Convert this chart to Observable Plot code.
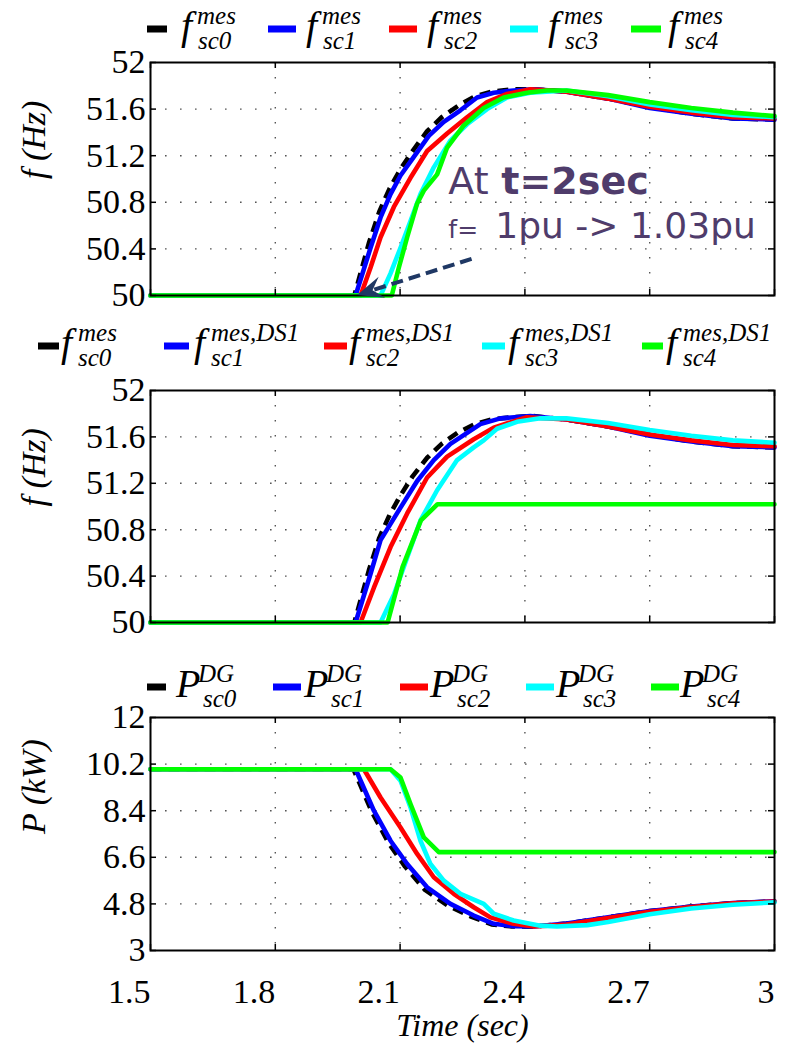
<!DOCTYPE html>
<html><head><meta charset="utf-8">
<script src="https://cdn.jsdelivr.net/npm/d3@7"></script>
<script src="https://cdn.jsdelivr.net/npm/@observablehq/plot@0.6"></script>
<style>
html,body{margin:0;padding:0;background:#fff;}
#root{position:relative;width:798px;height:1043px;overflow:hidden;background:#fff;}
.panel{position:absolute;left:0;}
#legend{position:absolute;left:0;top:0;}
</style></head><body><div id="root"></div>
<script>
// ---------- axis ticks ----------
const xTicks = [1.5, 1.8, 2.1, 2.4, 2.7, 3];
const fTicks = [50, 50.4, 50.8, 51.2, 51.6, 52];
const pTicks = [3, 4.8, 6.6, 8.4, 10.2, 12];
const seriesColors = ["#000000", "#0000ff", "#ff0000", "#00ffff", "#00ff00"];

// ---------- legends ----------
const legend1Base = ["f", "f", "f", "f", "f"];
const legend1Sup = ["mes", "mes", "mes", "mes", "mes"];
const legend1Sub = ["sc0", "sc1", "sc2", "sc3", "sc4"];
const legend2Base = ["f", "f", "f", "f", "f"];
const legend2Sup = ["mes", "mes,DS1", "mes,DS1", "mes,DS1", "mes,DS1"];
const legend2Sub = ["sc0", "sc1", "sc2", "sc3", "sc4"];
const legend3Base = ["P", "P", "P", "P", "P"];
const legend3Sup = ["DG", "DG", "DG", "DG", "DG"];
const legend3Sub = ["sc0", "sc1", "sc2", "sc3", "sc4"];

// ---------- panel 1 : f_mes (Hz) ----------
const f1_sc0_t = [1.5, 1.99, 2.025, 2.05, 2.075, 2.1, 2.13, 2.165, 2.2, 2.24, 2.28, 2.32, 2.37, 2.42, 2.5, 2.6, 2.7, 2.8, 2.9, 3.0];
const f1_sc0_v = [50, 50, 50.45, 50.72, 50.92, 51.08, 51.24, 51.41, 51.53, 51.63, 51.71, 51.75, 51.77, 51.77, 51.75, 51.69, 51.62, 51.56, 51.52, 51.51];
const f1_sc1_t = [1.5, 1.993, 2.029, 2.053, 2.077, 2.101, 2.133, 2.169, 2.205, 2.245, 2.285, 2.325, 2.373, 2.421, 2.5, 2.6, 2.7, 2.8, 2.9, 3.0];
const f1_sc1_v = [50, 50, 50.41, 50.67, 50.87, 51.03, 51.19, 51.37, 51.49, 51.59, 51.70, 51.74, 51.76, 51.77, 51.75, 51.69, 51.61, 51.56, 51.52, 51.51];
const f1_sc2_t = [1.5, 2.005, 2.029, 2.053, 2.085, 2.125, 2.165, 2.213, 2.261, 2.309, 2.357, 2.413, 2.5, 2.6, 2.7, 2.8, 2.9, 3.0];
const f1_sc2_v = [50, 50, 50.24, 50.50, 50.76, 51.01, 51.24, 51.39, 51.53, 51.66, 51.73, 51.77, 51.75, 51.69, 51.62, 51.57, 51.53, 51.52];
const f1_sc3_t = [1.5, 2.053, 2.077, 2.101, 2.125, 2.149, 2.181, 2.221, 2.261, 2.309, 2.357, 2.413, 2.5, 2.6, 2.7, 2.8, 2.9, 3.0];
const f1_sc3_v = [50, 50, 50.19, 50.41, 50.64, 50.87, 51.10, 51.33, 51.47, 51.60, 51.70, 51.74, 51.76, 51.71, 51.64, 51.59, 51.55, 51.53];
const f1_sc4_t = [1.5, 2.08, 2.097, 2.117, 2.141, 2.157, 2.189, 2.213, 2.253, 2.301, 2.349, 2.405, 2.453, 2.5, 2.6, 2.7, 2.8, 2.9, 3.0];
const f1_sc4_v = [50, 50, 50.24, 50.50, 50.79, 50.90, 51.04, 51.27, 51.46, 51.61, 51.70, 51.74, 51.76, 51.76, 51.72, 51.66, 51.61, 51.57, 51.54];

// ---------- panel 2 : f_mes,DS1 (Hz) ----------
const f2_sc0_t = [1.5, 1.99, 2.025, 2.05, 2.075, 2.1, 2.13, 2.165, 2.2, 2.24, 2.28, 2.32, 2.37, 2.42, 2.5, 2.6, 2.7, 2.8, 2.9, 3.0];
const f2_sc0_v = [50, 50, 50.45, 50.73, 50.93, 51.09, 51.26, 51.42, 51.54, 51.64, 51.71, 51.75, 51.77, 51.78, 51.75, 51.69, 51.62, 51.56, 51.52, 51.51];
const f2_sc1_t = [1.5, 1.993, 2.029, 2.053, 2.101, 2.141, 2.181, 2.221, 2.293, 2.341, 2.413, 2.5, 2.6, 2.7, 2.8, 2.9, 3.0];
const f2_sc1_v = [50, 50, 50.42, 50.71, 50.99, 51.22, 51.40, 51.54, 51.71, 51.76, 51.78, 51.75, 51.69, 51.61, 51.56, 51.52, 51.51];
const f2_sc2_t = [1.5, 2.005, 2.037, 2.077, 2.117, 2.165, 2.213, 2.277, 2.325, 2.405, 2.5, 2.6, 2.7, 2.8, 2.9, 3.0];
const f2_sc2_v = [50, 50, 50.30, 50.65, 50.94, 51.25, 51.43, 51.58, 51.68, 51.77, 51.75, 51.69, 51.62, 51.57, 51.53, 51.52];
const f2_sc3_t = [1.5, 2.053, 2.085, 2.117, 2.149, 2.189, 2.237, 2.277, 2.301, 2.333, 2.381, 2.437, 2.5, 2.6, 2.7, 2.8, 2.9, 3.0];
const f2_sc3_v = [50, 50, 50.24, 50.56, 50.88, 51.14, 51.40, 51.51, 51.57, 51.67, 51.73, 51.76, 51.76, 51.72, 51.66, 51.61, 51.57, 51.55];
const f2_sc4_t = [1.5, 2.07, 2.106, 2.15, 2.19, 3.0];
const f2_sc4_v = [50, 50, 50.48, 50.88, 51.02, 51.02];

// ---------- panel 3 : P_DG (kW) ----------
const p3_sc0_t = [1.5, 1.988, 2.032, 2.072, 2.112, 2.16, 2.216, 2.272, 2.32, 2.368, 2.42, 2.5, 2.6, 2.7, 2.8, 2.9, 3.0];
const p3_sc0_v = [10, 10, 8.36, 7.16, 6.24, 5.34, 4.72, 4.30, 4.01, 3.93, 3.92, 4.04, 4.28, 4.52, 4.70, 4.83, 4.90];
const p3_sc1_t = [1.5, 1.993, 2.037, 2.077, 2.117, 2.165, 2.221, 2.277, 2.325, 2.373, 2.42, 2.5, 2.6, 2.7, 2.8, 2.9, 3.0];
const p3_sc1_v = [10, 10, 8.40, 7.24, 6.34, 5.44, 4.80, 4.35, 4.03, 3.94, 3.93, 4.04, 4.28, 4.52, 4.70, 4.83, 4.90];
const p3_sc2_t = [1.5, 2.013, 2.053, 2.101, 2.141, 2.181, 2.229, 2.277, 2.317, 2.373, 2.421, 2.5, 2.6, 2.7, 2.8, 2.9, 3.0];
const p3_sc2_v = [10, 10, 8.91, 7.75, 6.73, 5.83, 5.19, 4.67, 4.28, 4.03, 3.93, 4.00, 4.25, 4.50, 4.68, 4.82, 4.89];
const p3_sc3_t = [1.5, 2.077, 2.101, 2.125, 2.149, 2.173, 2.205, 2.245, 2.301, 2.325, 2.373, 2.437, 2.477, 2.55, 2.6, 2.7, 2.8, 2.9, 3.0];
const p3_sc3_v = [10, 10, 9.56, 8.53, 7.24, 6.34, 5.70, 5.19, 4.80, 4.42, 4.16, 3.96, 3.93, 3.98, 4.10, 4.40, 4.62, 4.77, 4.86];
const p3_sc4_t = [1.5, 2.077, 2.101, 2.125, 2.157, 2.193, 3.0];
const p3_sc4_v = [10, 10, 9.68, 8.66, 7.37, 6.80, 6.80];

// ---------- annotation (data coordinates of panel 1) ----------
const annoLine1 = ["At ", "t=2sec"];
const annoLine2 = ["f=", "1pu -> 1.03pu"];
const annoAnchor1 = [2.216, 50.874];
const annoAnchor2 = [2.216, 50.497];
const arrowFrom = [2.273, 50.31];
const arrowTo = [1.998, 50.0];

// ---------- helpers ----------
const SERIF = "Liberation Serif";
const SANS = "DejaVu Sans";
const root = document.getElementById("root");
const PLOT_W = 798, ML = 150, MR = 24;
const FW = PLOT_W - ML - MR;

function rows(t, v) { return t.map((d, i) => ({t: d, v: v[i]})); }

function panel({top, mt, mb, frameH, yDomain, yTicks, series, yLabel, showX, extra = []}) {
  const height = mt + frameH + mb;
  const gridStyle = {stroke: "#555", strokeOpacity: 1, strokeWidth: 1.4, strokeDasharray: "1.6,13.4"};
  const tickStyle = {stroke: "#000", strokeWidth: 1.5};
  const marks = [
    Plot.gridX(xTicks.slice(1, -1), gridStyle),
    Plot.gridY(yTicks.slice(1, -1), gridStyle),
    ...series.map((s, i) => Plot.line(rows(s[0], s[1]), {
      x: "t", y: "v", stroke: seriesColors[i], strokeWidth: 4.6,
      strokeLinejoin: "round", strokeLinecap: i === 0 ? "butt" : "round",
      ...(i === 0 ? {strokeDasharray: "11,7"} : {})
    })),
    Plot.frame({stroke: "#000", strokeWidth: 2}),
    Plot.tickX(xTicks, {x: d => d, insetTop: frameH - 6, ...tickStyle}),
    Plot.tickX(xTicks, {x: d => d, insetBottom: frameH - 6, ...tickStyle}),
    Plot.tickY(yTicks, {y: d => d, insetRight: FW - 6, ...tickStyle}),
    Plot.tickY(yTicks, {y: d => d, insetLeft: FW - 6, ...tickStyle}),
    Plot.axisY({ticks: yTicks, tickSize: 0, tickPadding: 5, tickFormat: d => String(d), label: null, fontSize: 34}),
    Plot.text([yLabel], {frameAnchor: "left", rotate: -90, dx: -116, fontStyle: "italic", fontSize: 34, lineAnchor: "middle"}),
    ...extra
  ];
  if (showX) {
    marks.push(Plot.text(xTicks, {x: d => d, text: d => String(d), frameAnchor: "bottom", textAnchor: "end", lineAnchor: "middle", dy: 42, fontSize: 34}));
    marks.push(Plot.text(["Time (sec)"], {frameAnchor: "bottom", lineAnchor: "middle", dy: 75, fontStyle: "italic", fontSize: 32}));
  }
  const svg = Plot.plot({
    width: PLOT_W, height,
    marginLeft: ML, marginRight: MR, marginTop: mt, marginBottom: mb,
    x: {domain: [1.5, 3], axis: null, label: null},
    y: {domain: yDomain, label: null},
    style: {background: "transparent", overflow: "visible", color: "#000"},
    marks
  });
  // serif face on the axis texts, sans face on the annotation
  d3.select(svg).selectAll("text").each(function () { this.style.fontFamily = SERIF; });
  d3.select(svg).selectAll(".anno text, text.anno").each(function () { this.style.fontFamily = SANS; });
  svg.classList.add("panel");
  svg.style.top = top + "px";
  svg.style.position = "absolute";
  root.appendChild(svg);
}

// arrow annotation drawn with the panel's own scales
function arrowMark(index, scales) {
  const x1 = scales.x(arrowFrom[0]), y1 = scales.y(arrowFrom[1]);
  const x2 = scales.x(arrowTo[0]), y2 = scales.y(arrowTo[1]);
  const len = Math.hypot(x1 - x2, y1 - y2);
  const ux = (x1 - x2) / len, uy = (y1 - y2) / len;
  const nx = -uy, ny = ux;
  const L = 26, Wd = 11;
  const g = d3.create("svg:g");
  g.append("line")
    .attr("x1", x1).attr("y1", y1)
    .attr("x2", x2 + ux * L * 0.6).attr("y2", y2 + uy * L * 0.6)
    .attr("stroke", "#1f3864").attr("stroke-width", 4).attr("stroke-dasharray", "12,6");
  const pts = [
    [x2, y2],
    [x2 + ux * L + nx * Wd, y2 + uy * L + ny * Wd],
    [x2 + ux * L * 0.62, y2 + uy * L * 0.62],
    [x2 + ux * L - nx * Wd, y2 + uy * L - ny * Wd]
  ];
  g.append("path").attr("d", "M" + pts.map(p => p.join(",")).join("L") + "Z").attr("fill", "#1f3864");
  return g.node();
}

const annoStyle = {fill: "#4f3c6b", textAnchor: "start", lineAnchor: "bottom", className: "anno"};
const annotation = [
  Plot.text([annoLine1[0]], {x: () => annoAnchor1[0], y: () => annoAnchor1[1], fontSize: 38, ...annoStyle}),
  Plot.text([annoLine1[1]], {x: () => annoAnchor1[0], y: () => annoAnchor1[1], dx: 53, fontSize: 38, fontWeight: "bold", ...annoStyle}),
  Plot.text([annoLine2[0]], {x: () => annoAnchor2[0], y: () => annoAnchor2[1], fontSize: 25, ...annoStyle}),
  Plot.text([annoLine2[1]], {x: () => annoAnchor2[0], y: () => annoAnchor2[1], dx: 47, fontSize: 36, ...annoStyle}),
  arrowMark
];

panel({top: 40, mt: 22, mb: 12, frameH: 233, yDomain: [50, 52], yTicks: fTicks, yLabel: "f (Hz)",
  series: [[f1_sc0_t, f1_sc0_v], [f1_sc1_t, f1_sc1_v], [f1_sc2_t, f1_sc2_v], [f1_sc3_t, f1_sc3_v], [f1_sc4_t, f1_sc4_v]],
  extra: annotation});
panel({top: 368, mt: 22, mb: 12, frameH: 232, yDomain: [50, 52], yTicks: fTicks, yLabel: "f (Hz)",
  series: [[f2_sc0_t, f2_sc0_v], [f2_sc1_t, f2_sc1_v], [f2_sc2_t, f2_sc2_v], [f2_sc3_t, f2_sc3_v], [f2_sc4_t, f2_sc4_v]]});
panel({top: 695, mt: 22, mb: 93, frameH: 233, yDomain: [3, 12], yTicks: pTicks, yLabel: "P (kW)", showX: true,
  series: [[p3_sc0_t, p3_sc0_v], [p3_sc1_t, p3_sc1_v], [p3_sc2_t, p3_sc2_v], [p3_sc3_t, p3_sc3_v], [p3_sc4_t, p3_sc4_v]]});

// ---------- legends (SVG text above each panel) ----------
const lsvg = d3.select(root).append("svg").attr("id", "legend").attr("width", 798).attr("height", 1043)
  .style("position", "absolute").style("left", 0).style("top", 0).style("pointer-events", "none");

function legendRow(cfg) {
  cfg.base.forEach((b, i) => {
    const g = lsvg.append("g").attr("fill", "#000");
    const [d0, d1] = cfg.dash[i];
    g.append("rect").attr("x", d0).attr("y", cfg.dashY - 3.5).attr("width", d1 - d0).attr("height", 7).attr("fill", seriesColors[i]);
    const bx = cfg.bx[i];
    const t = (x, y, size, s) => g.append("text").attr("x", x).attr("y", y)
      .style("font-family", SERIF).style("font-style", "italic").style("font-size", size + "px").text(s);
    t(bx, cfg.baseY, 40, b);
    t(bx + cfg.supOff, cfg.baseY - 15, 25, cfg.sup[i]);
    t(bx + cfg.subOff, cfg.baseY + 10, 25, cfg.sub[i]);
  });
}

legendRow({base: legend1Base, sup: legend1Sup, sub: legend1Sub, dashY: 29, baseY: 39, supOff: 16, subOff: 17,
  dash: [[147, 167], [268, 296], [389, 417], [510, 538], [631, 661]], bx: [181, 306, 427, 548, 668]});
legendRow({base: legend2Base, sup: legend2Sup, sub: legend2Sub, dashY: 346, baseY: 356, supOff: 17, subOff: 17,
  dash: [[38, 59], [164, 189], [324, 347], [482, 505], [642, 663]], bx: [61, 194, 349, 508, 666]});
legendRow({base: legend3Base, sup: legend3Sup, sub: legend3Sub, dashY: 687, baseY: 697, supOff: 22, subOff: 27,
  dash: [[147, 166], [273, 301], [400, 428], [526, 554], [651, 679]], bx: [176, 304, 430, 556, 680]});
</script>
</body></html>
